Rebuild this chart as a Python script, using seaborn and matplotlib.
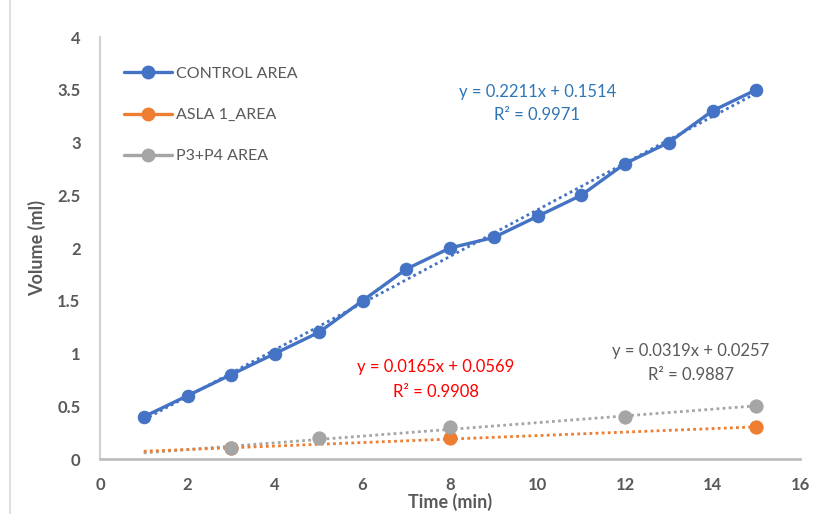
import numpy as np
import pandas as pd
import matplotlib
matplotlib.use("Agg")
import matplotlib.pyplot as plt
from matplotlib.lines import Line2D
import seaborn as sns

# ---- data ----
control_time = [1, 2, 3, 4, 5, 6, 7, 8, 9, 10, 11, 12, 13, 14, 15]
control_vol = [0.4, 0.6, 0.8, 1.0, 1.2, 1.5, 1.8, 2.0, 2.1, 2.3, 2.5, 2.8, 3.0, 3.3, 3.5]
asla_time = [3, 8, 15]
asla_vol = [0.1, 0.2, 0.3]
p34_time = [3, 5, 8, 12, 15]
p34_vol = [0.1, 0.2, 0.3, 0.4, 0.5]
series_names = ["CONTROL AREA", "ASLA 1_AREA", "P3+P4 AREA"]
x_ticks = [0, 2, 4, 6, 8, 10, 12, 14, 16]
y_ticks = [0, 0.5, 1, 1.5, 2, 2.5, 3, 3.5, 4]
y_tick_labels = ["0", "0.5", "1", "1.5", "2", "2.5", "3", "3.5", "4"]

blue = "#4472C4"
orange = "#ED7D31"
gray = "#A5A5A5"
text_gray = "#595959"

sns.set_theme(style="white")
plt.rcParams["font.family"] = ["Lato", "DejaVu Sans"]

fig = plt.figure(figsize=(8.25, 5.14), dpi=100)
ax = fig.add_axes([100 / 825, 1 - 459 / 514, 700 / 825, 422 / 514])

df_c = pd.DataFrame({"t": control_time, "v": control_vol})
df_a = pd.DataFrame({"t": asla_time, "v": asla_vol})
df_p = pd.DataFrame({"t": p34_time, "v": p34_vol})

# trend lines
xr = np.array([min(control_time), max(control_time)], dtype=float)
for df, col in [(df_p, gray), (df_a, orange), (df_c, blue)]:
    m, b = np.polyfit(df["t"], df["v"], 1)
    ax.plot(xr, m * xr + b, linestyle=(0, (1, 1.2)), color=col, lw=2.0, zorder=2)

sns.lineplot(data=df_c, x="t", y="v", ax=ax, color=blue, lw=2.4, marker="o",
             markersize=9, markeredgecolor=blue, zorder=4, legend=False)
sns.scatterplot(data=df_a, x="t", y="v", ax=ax, color=orange, s=90,
                edgecolor=orange, zorder=3, legend=False)
sns.scatterplot(data=df_p, x="t", y="v", ax=ax, color=gray, s=90,
                edgecolor=gray, zorder=3.5, legend=False)

ax.set_xlim(0, 16)
ax.set_ylim(0, 4)
ax.set_xticks(x_ticks)
ax.set_yticks(y_ticks)
ax.set_yticklabels(y_tick_labels)
ax.tick_params(axis="both", length=0, labelsize=12, labelcolor=text_gray)
ax.tick_params(axis="x", pad=13)
ax.tick_params(axis="y", pad=14)
for lab in ax.get_xticklabels() + ax.get_yticklabels():
    lab.set_fontweight("bold")

for s in ["top", "right"]:
    ax.spines[s].set_visible(False)
ax.spines["left"].set_color("#D0D0D0")
ax.spines["left"].set_linewidth(1.5)
ax.spines["bottom"].set_color("#BFBFBF")
ax.spines["bottom"].set_linewidth(2)

ax.set_xlabel("Time (min)", fontsize=13, fontweight="bold", color=text_gray, labelpad=0)
ax.set_ylabel("Volume (ml)", fontsize=13, fontweight="bold", color=text_gray, labelpad=8)

# equations
eq_size = 12
ax.text(10.0, 3.48, "y = 0.2211x + 0.1514", color="#2E75B6", fontsize=eq_size, ha="center", va="center")
ax.text(10.0, 3.26, "R² = 0.9971", color="#2E75B6", fontsize=eq_size, ha="center", va="center")
ax.text(7.68, 0.87, "y = 0.0165x + 0.0569", color="#FF0000", fontsize=eq_size, ha="center", va="center")
ax.text(7.68, 0.635, "R² = 0.9908", color="#FF0000", fontsize=eq_size, ha="center", va="center")
ax.text(13.5, 1.02, "y = 0.0319x + 0.0257", color=text_gray, fontsize=eq_size, ha="center", va="center")
ax.text(13.5, 0.795, "R² = 0.9887", color=text_gray, fontsize=eq_size, ha="center", va="center")

handles = [Line2D([], [], color=c, lw=2.4, marker="o", markersize=9)
           for c in (blue, orange, gray)]
leg = ax.legend(handles, series_names, loc="upper left", bbox_to_anchor=(0.025, 0.945),
                frameon=False, fontsize=11.5, labelspacing=1.7, handlelength=3.0,
                handletextpad=0.25, borderaxespad=0)
for t in leg.get_texts():
    t.set_color(text_gray)

# chart frame left edge
fig.add_artist(Line2D([10 / 825, 10 / 825], [0, 1], transform=fig.transFigure,
                      color="#D9D9D9", lw=1.2))

fig.savefig("out.png", dpi=100)
